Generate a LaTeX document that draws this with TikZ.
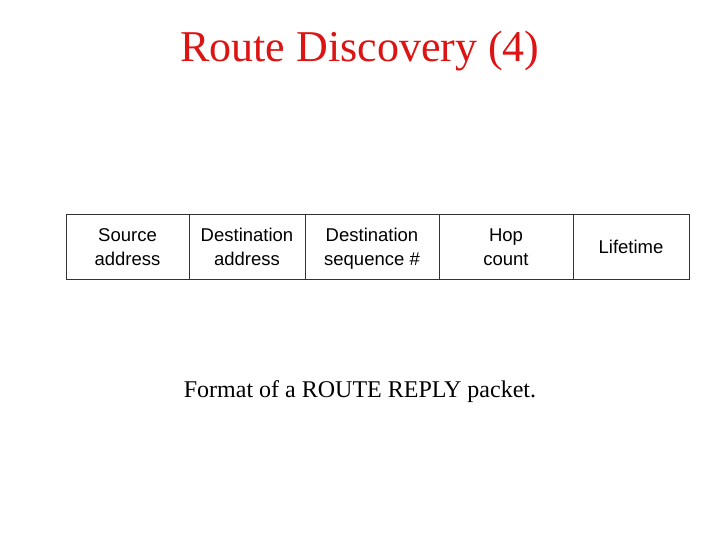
\documentclass[tikz,border=0pt]{standalone}
\usepackage{fontspec}
\setmainfont{Liberation Serif}
\newfontfamily\arialf{Liberation Sans}
\definecolor{titlered}{RGB}{220,20,20}
\newcommand\fstrut{\rule[-5.2pt]{0pt}{24pt}}
\begin{document}
\begin{tikzpicture}[x=1pt,y=-1pt,
  field/.style={draw=black!80,line width=0.9pt,inner sep=0pt,outer sep=0pt,minimum height=65pt,
    align=center,font=\arialf\fontsize{18.5}{24}\selectfont,anchor=north west},
  title/.style={text=titlered,font=\fontsize{44}{50}\selectfont,anchor=base},
  caption/.style={font=\fontsize{24}{28}\selectfont,anchor=base}]
\useasboundingbox (0,0) rectangle (720,540);
\node[title] (t) at (360,62) {Route Discovery (4)};
\node[field,minimum width=123pt] (f1) at (66,214) {Source\fstrut\\address\fstrut};
\node[field,minimum width=116pt] (f2) at (f1.north east) {Destination\fstrut\\address\fstrut};
\node[field,minimum width=134pt] (f3) at (f2.north east) {Destination\fstrut\\sequence \#\fstrut};
\node[field,minimum width=134pt] (f4) at (f3.north east) {Hop\fstrut\\count\fstrut};
\node[field,minimum width=116pt] (f5) at (f4.north east) {Lifetime\fstrut};
\node[caption] (c) at (360,397) {Format of a ROUTE REPLY packet.};
\end{tikzpicture}
\end{document}
